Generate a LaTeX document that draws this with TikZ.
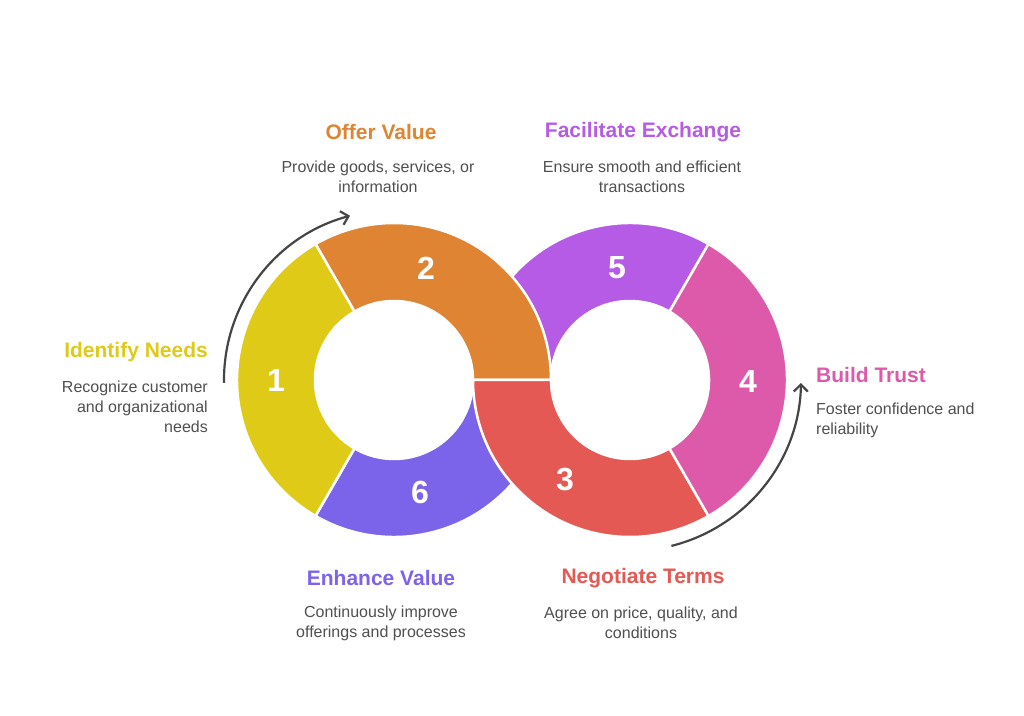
\documentclass[tikz,border=0pt]{standalone}
\usepackage{fontspec}
\setmainfont{Liberation Sans}
\usetikzlibrary{arrows.meta}
\definecolor{cneeds}{HTML}{DFCB17}
\definecolor{coffer}{HTML}{DF8432}
\definecolor{cnegotiate}{HTML}{E45953}
\definecolor{ctrust}{HTML}{DD59AA}
\definecolor{cexchange}{HTML}{B55BE5}
\definecolor{cenhance}{HTML}{7C64EA}
\definecolor{descgray}{HTML}{505050}
\definecolor{arrowgray}{HTML}{454545}
\tikzset{
  segment/.style={draw=white, line width=2.5pt},
  flow/.style={draw=arrowgray, line width=2.2pt, -{Straight Barb[length=7pt,width=14pt]}},
  title/.style={font=\bfseries\fontsize{21}{24}\selectfont, inner sep=0pt},
  desc/.style={font=\fontsize{16}{20}\selectfont, text=descgray, inner sep=0pt},
  num/.style={font=\bfseries\fontsize{32}{36}\selectfont, text=white, inner sep=0pt}
}
\begin{document}
\begin{tikzpicture}[x=1pt, y=1pt]
    \useasboundingbox[fill=white] (0,0) rectangle (1024,715);
    \coordinate (L) at (394,335);
    \coordinate (R) at (630,335);
    % lower layer
    \filldraw[segment, fill=cenhance] ([shift={(L)}]240:157) arc[start angle=240, end angle=360, radius=157]
        -- ([shift={(L)}]0:79) arc[start angle=360, end angle=240, radius=79] -- cycle;
    \filldraw[segment, fill=cexchange] ([shift={(R)}]60:157) arc[start angle=60, end angle=180, radius=157]
        -- ([shift={(R)}]180:79) arc[start angle=180, end angle=60, radius=79] -- cycle;
    % upper layer
    \filldraw[segment, fill=coffer] ([shift={(L)}]0:157) arc[start angle=0, end angle=120, radius=157]
        -- ([shift={(L)}]120:79) arc[start angle=120, end angle=0, radius=79] -- cycle;
    \filldraw[segment, fill=cnegotiate] ([shift={(R)}]180:157) arc[start angle=180, end angle=300, radius=157]
        -- ([shift={(R)}]300:79) arc[start angle=300, end angle=180, radius=79] -- cycle;
    \filldraw[segment, fill=cneeds] ([shift={(L)}]120:157) arc[start angle=120, end angle=240, radius=157]
        -- ([shift={(L)}]240:79) arc[start angle=240, end angle=120, radius=79] -- cycle;
    \filldraw[segment, fill=ctrust] ([shift={(R)}]-60:157) arc[start angle=-60, end angle=60, radius=157]
        -- ([shift={(R)}]60:79) arc[start angle=60, end angle=-60, radius=79] -- cycle;
    % numbers
    \node[num] (n1) at (276,335) {1};
    \node[num] (n2) at (426,447) {2};
    \node[num] (n3) at (565,235) {3};
    \node[num] (n4) at (748,334) {4};
    \node[num] (n5) at (617,447) {5};
    \node[num] (n6) at (420,223) {6};
    % arrows
    \coordinate (la) at ([shift={(L)}]181:170);
    \coordinate (ra) at ([shift={(R)}]-76:171);
    \draw[flow] (la) arc[start angle=181, end angle=105, radius=170];
    \draw[flow] (ra) arc[start angle=-76, end angle=-1, radius=171];
    % labels
    \node[title, text=cneeds, anchor=east] (needs) at (208,363) {Identify Needs};
    \node[desc, anchor=east, align=right] (needsd) at (208,308) {Recognize customer\\and organizational\\needs};
    \node[title, text=coffer] (offer) at (381,583) {Offer Value};
    \node[desc, align=center] (offerd) at (378,538) {Provide goods, services, or\\information};
    \node[title, text=cexchange] (exchange) at (643,583) {Facilitate Exchange};
    \node[desc, align=center] (exchanged) at (642,538) {Ensure smooth and efficient\\transactions};
    \node[title, text=ctrust, anchor=west] (trust) at (816,340) {Build Trust};
    \node[desc, anchor=west, align=left] (trustd) at (816,295) {Foster confidence and\\reliability};
    \node[title, text=cenhance] (enhance) at (381,137) {Enhance Value};
    \node[desc, align=center] (enhanced) at (381,92) {Continuously improve\\offerings and processes};
    \node[title, text=cnegotiate] (negotiate) at (643,137) {Negotiate Terms};
    \node[desc, align=center] (negotiated) at (641,92) {Agree on price, quality, and\\conditions};
\end{tikzpicture}
\end{document}
